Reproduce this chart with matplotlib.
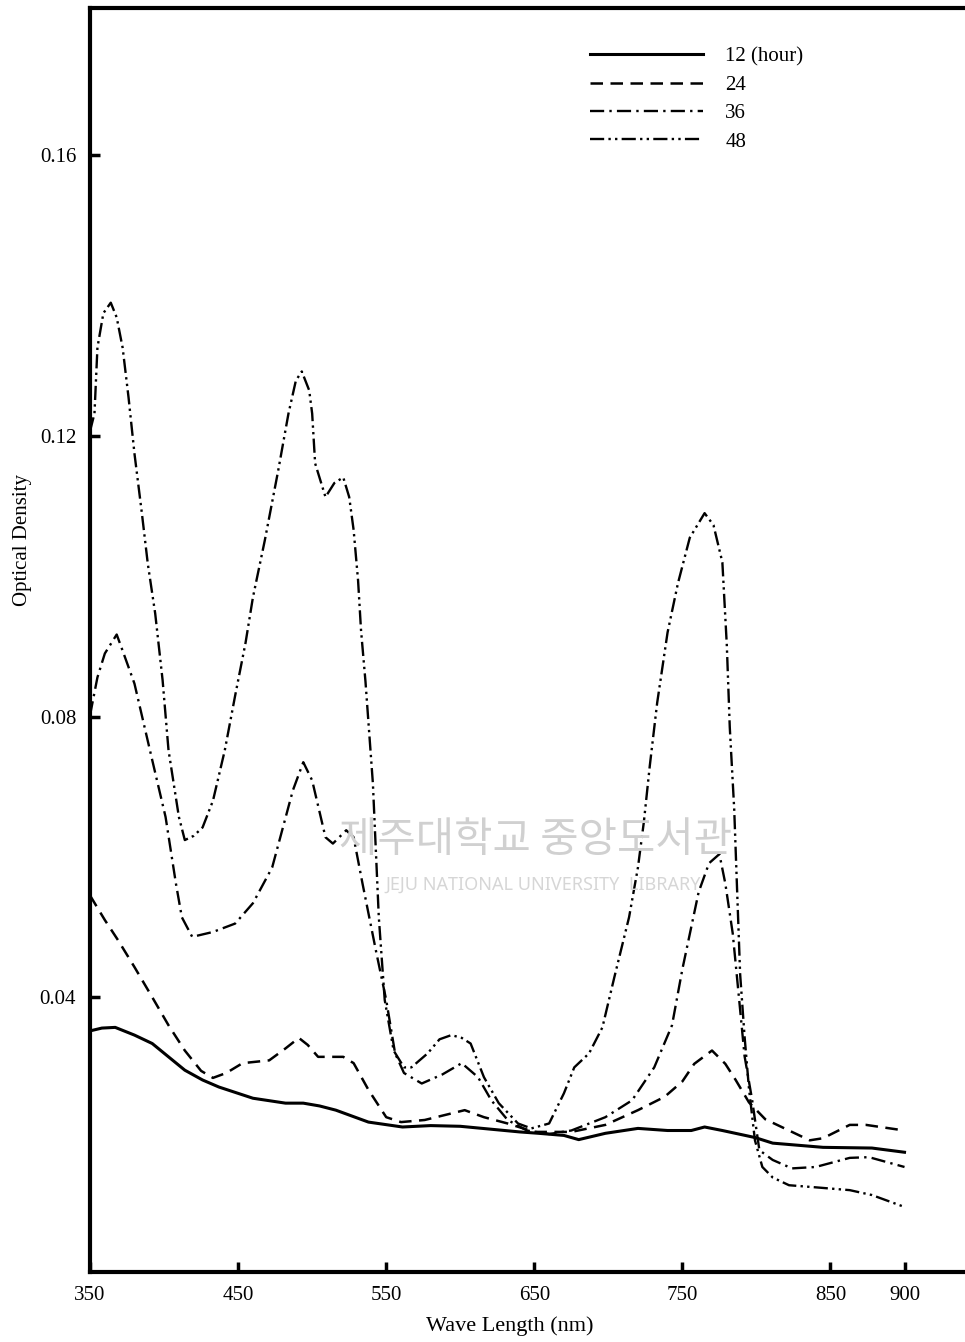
import matplotlib
matplotlib.use('Agg')
import matplotlib.pyplot as plt

# wavelength (nm) / optical density
wl_12 = [350, 358, 367, 380, 392, 403, 414, 426, 437, 460, 482, 494, 505, 516,
         538, 561, 580, 600, 620, 640, 653, 670, 680, 698, 720, 740, 756, 765,
         777, 799, 811, 845, 878, 900]
od_12 = [0.0352, 0.0356, 0.0357, 0.0346, 0.0334, 0.0315, 0.0296, 0.0282, 0.0272,
         0.0256, 0.0249, 0.0249, 0.0245, 0.0239, 0.0222, 0.0215, 0.0217, 0.0216,
         0.0212, 0.0208, 0.0206, 0.0203, 0.0197, 0.0206, 0.0213, 0.0210, 0.0210,
         0.0215, 0.0210, 0.0200, 0.0192, 0.0186, 0.0185, 0.0179]

wl_24 = [350, 360, 369, 380, 392, 403, 414, 425, 433, 442, 453, 471, 482, 491,
         497, 504, 521, 528, 538, 550, 560, 576, 603, 616, 632, 650, 675, 698,
         720, 738, 750, 758, 770, 779, 786, 795, 806, 822, 836, 845, 863, 874, 900]
od_24 = [0.0545, 0.0510, 0.0481, 0.0443, 0.0400, 0.0360, 0.0324, 0.0295, 0.0285,
         0.0292, 0.0306, 0.0310, 0.0327, 0.0342, 0.0332, 0.0315, 0.0315, 0.0306,
         0.0268, 0.0229, 0.0222, 0.0225, 0.0239, 0.0229, 0.0220, 0.0208, 0.0208,
         0.0218, 0.0239, 0.0258, 0.0280, 0.0305, 0.0324, 0.0305, 0.0282, 0.0250,
         0.0226, 0.0210, 0.0196, 0.0199, 0.0218, 0.0218, 0.0210]

wl_36 = [350, 355, 360, 368, 372, 380, 392, 401, 408, 412, 419, 433, 448, 460,
         473, 487, 494, 500, 509, 514, 523, 528, 534, 543, 550, 556, 562, 574,
         588, 601, 612, 621, 632, 645, 660, 675, 698, 716, 731, 743, 750, 756,
         761, 768, 775, 779, 784, 788, 792, 797, 802, 811, 824, 840, 863, 876, 900]
od_36 = [0.0802, 0.0856, 0.0890, 0.0917, 0.0894, 0.0847, 0.0738, 0.0657, 0.0562,
         0.0514, 0.0486, 0.0493, 0.0505, 0.0534, 0.0585, 0.0695, 0.0735, 0.0709,
         0.0628, 0.0619, 0.0638, 0.0628, 0.0562, 0.0467, 0.0396, 0.0320, 0.0292,
         0.0277, 0.0290, 0.0306, 0.0286, 0.0253, 0.0225, 0.0210, 0.0205, 0.0210,
         0.0229, 0.0253, 0.0300, 0.0360, 0.0440, 0.0500, 0.0550, 0.0591, 0.0604,
         0.0562, 0.0491, 0.0404, 0.0316, 0.0255, 0.0182, 0.0168, 0.0156, 0.0158,
         0.0171, 0.0172, 0.0158]

wl_48 = [350, 353, 355, 359, 364, 368, 372, 376, 380, 385, 389, 394, 399, 403,
         410, 414, 420, 426, 433, 441, 448, 455, 460, 468, 477, 484, 489, 493,
         498, 500, 502, 509, 515, 521, 525, 528, 531, 533, 536, 541, 545, 549,
         555, 562, 567, 578, 586, 594, 601, 607, 616, 626, 639, 648, 660, 670,
         677, 687, 696, 704, 714, 720, 724, 728, 733, 740, 747, 755, 765, 771,
         777, 780, 782, 785, 787, 789, 792, 795, 799, 804, 811, 822, 840, 863,
         878, 900]
od_48 = [0.1207, 0.1232, 0.1326, 0.1375, 0.1390, 0.1369, 0.1326, 0.1255, 0.1175,
         0.1090, 0.1018, 0.0947, 0.0852, 0.0752, 0.0657, 0.0624, 0.0630, 0.0642,
         0.0680, 0.0752, 0.0830, 0.0905, 0.0970, 0.1051, 0.1150, 0.1232, 0.1279,
         0.1292, 0.1265, 0.1232, 0.1161, 0.1113, 0.1133, 0.1141, 0.1113, 0.1066,
         0.0994, 0.0923, 0.0850, 0.0705, 0.0514, 0.0396, 0.0324, 0.0300, 0.0300,
         0.0320, 0.0340, 0.0346, 0.0342, 0.0334, 0.0286, 0.0249, 0.0220, 0.0213,
         0.0220, 0.0263, 0.0300, 0.0320, 0.0357, 0.0428, 0.0514, 0.0585, 0.0650,
         0.0730, 0.0820, 0.0920, 0.0990, 0.1055, 0.1090, 0.1073, 0.1020, 0.0902,
         0.0785, 0.0668, 0.0550, 0.0433, 0.0344, 0.0269, 0.0196, 0.0158, 0.0143,
         0.0132, 0.0129, 0.0125, 0.0118, 0.0101]

labels = ['12 (hour)', '24', '36', '48']
x_ticks = [350, 450, 550, 650, 750, 850, 900]
y_ticks = [0.04, 0.08, 0.12, 0.16]

plt.rcParams['font.family'] = ['Liberation Serif', 'DejaVu Serif']

fig = plt.figure(figsize=(9.65, 13.42), dpi=100)
ax = fig.add_axes([0.0933, 0.052, 0.91, 0.942])

ax.plot(wl_12, od_12, color='black', lw=2.2, ls='-', label=labels[0])
ax.plot(wl_24, od_24, color='black', lw=1.8, dashes=(5, 3), label=labels[1])
ax.plot(wl_36, od_36, color='black', lw=1.7, dashes=(6, 2.2, 1, 2.2), label=labels[2])
ax.plot(wl_48, od_48, color='black', lw=1.7, dashes=(6, 1.8, 1, 1.8, 1, 1.8), label=labels[3])

ax.set_xlim(350, 943)
ax.set_ylim(0.0008, 0.181)
ax.set_xticks(x_ticks)
ax.set_xticklabels([str(v) for v in x_ticks])
ax.set_yticks(y_ticks)
ax.set_yticklabels(['%.2f' % v for v in y_ticks])
ax.tick_params(direction='in', length=7, width=2.5, labelsize=15, pad=10)

for side in ['left', 'bottom', 'top']:
    ax.spines[side].set_linewidth(3)
ax.spines['right'].set_visible(False)

ax.set_ylabel('Optical Density', fontsize=15)
ax.yaxis.set_label_coords(-0.066, 0.579)
fig.text(0.528, 0.012, 'Wave Length (nm)', fontsize=16, ha='center', va='center')

ax.legend(loc='upper left', bbox_to_anchor=(0.548, 0.984), frameon=False,
          fontsize=15, handlelength=5.4, handletextpad=1.1, labelspacing=0.42)

# library watermark from the scan
fig.text(0.555, 0.374, '제주대학교 중앙도서관', fontsize=30, color='#d0d0d0',
         ha='center', va='center', family=['Noto Sans CJK KR', 'DejaVu Sans'], zorder=0)
fig.text(0.563, 0.341, 'JEJU NATIONAL UNIVERSITY  LIBRARY', fontsize=13, color='#d6d6d6',
         ha='center', va='center', family=['Noto Sans', 'DejaVu Sans'], zorder=0)

fig.savefig('out.png', dpi=100)
